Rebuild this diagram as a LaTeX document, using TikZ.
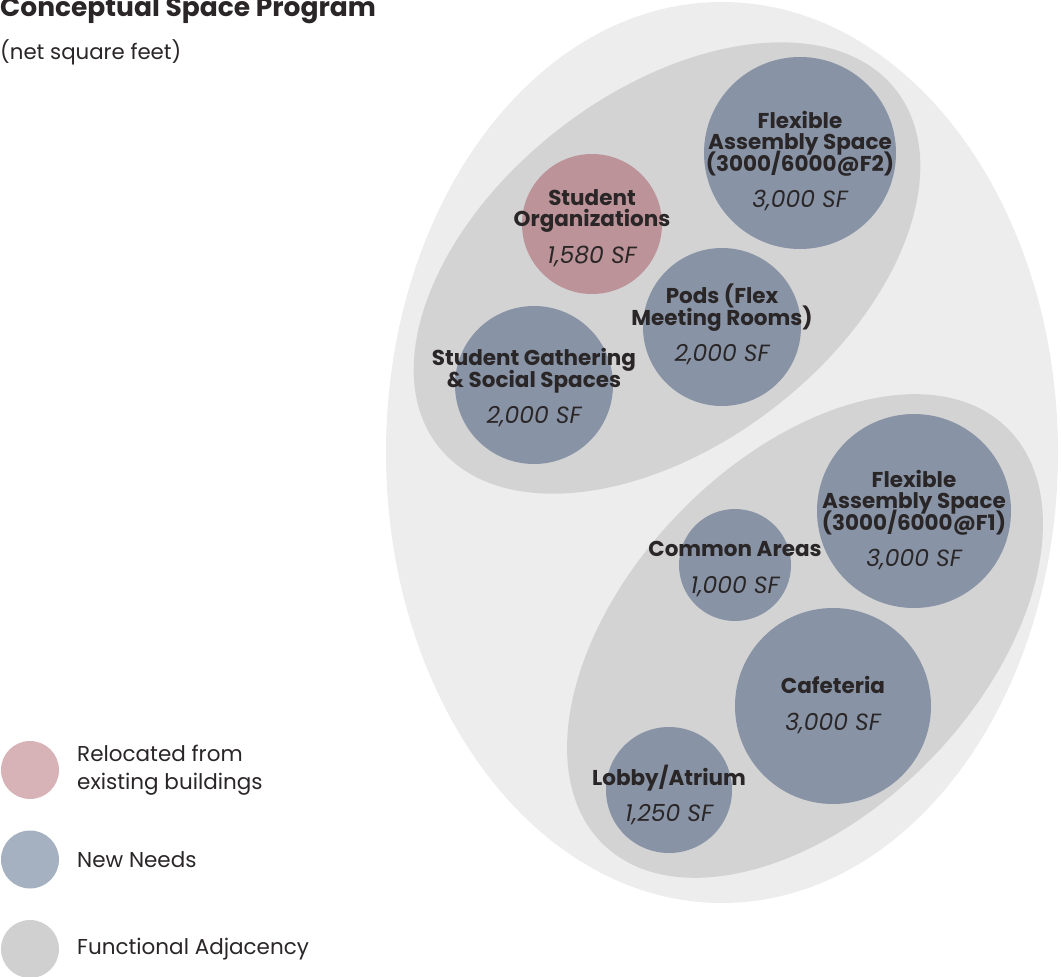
\documentclass[tikz,border=0pt]{standalone}
\usepackage{fontspec}
\setmainfont{Poppins}
\usepackage{xcolor}
\usetikzlibrary{positioning}
\definecolor{programBack}{HTML}{EDEDED}
\definecolor{programGroup}{HTML}{D3D3D3}
\definecolor{programNew}{HTML}{8894A5}
\definecolor{programReloc}{HTML}{BB9398}
\definecolor{programText}{HTML}{2A2627}
\definecolor{keyReloc}{HTML}{D7B3B8}
\definecolor{keyNew}{HTML}{A5B1C1}
\definecolor{keyGroup}{HTML}{D0D0D0}
\newcommand{\roomfont}{\fontsize{21.5}{21.5}\selectfont\bfseries\setlength{\lineskiplimit}{-30pt}}
\newcommand{\areafont}{\fontsize{23.5}{21.5}\selectfont\mdseries\itshape}

\begin{document}
\begin{tikzpicture}[x=1pt,y=-1pt,
    every node/.style={text=programText, inner sep=0pt},
    room/.style={circle, fill=programNew, minimum size=#1},
    oldroom/.style={circle, fill=programReloc, minimum size=#1},
    roomname/.style={align=center, font=\roomfont},
    keydot/.style={circle, minimum size=58},
    keytext/.style={anchor=west, align=left, font=\fontsize{21.5}{28}\selectfont}]
    \useasboundingbox (0,0) rectangle (1061,977);
    \fill[programBack] (722,452.5) ellipse [x radius=336, y radius=450.5];
    \fill[programGroup, rotate around={37.8:(667,268)}] (667,268) ellipse [x radius=290, y radius=176];
    \fill[programGroup, rotate around={46:(805,636)}] (805,636) ellipse [x radius=290, y radius=176];

    \node[anchor=base west, font=\fontsize{26.5}{30}\selectfont\bfseries] (title) at (0,16.5) {Conceptual Space Program};
    \node[anchor=base west, font=\fontsize{21.3}{24}\selectfont] (subtitle) at (0,59) {(net square feet)};

    \node[room=192] (flexTwo) at (800,153) {};
    \node[oldroom=140] (studentOrg) at (592,224) {};
    \node[room=158] (pods) at (722,327) {};
    \node[room=158] (gathering) at (534,385) {};
    \node[room=194] (flexOne) at (914,511) {};
    \node[room=112] (common) at (735,565) {};
    \node[room=196] (cafeteria) at (833,706) {};
    \node[room=126] (lobby) at (669,790) {};

    \node[roomname] (flexTwoT) at (800,161) {Flexible\\Assembly Space\\(3000/6000@F2)\\[15pt]{\areafont 3,000 SF}};
    \node[roomname] (studentOrgT) at (592,228) {Student\\Organizations\\[15pt]{\areafont 1,580 SF}};
    \node[roomname] (podsT) at (722,324.5) {Pods (Flex\\Meeting Rooms)\\[15pt]{\areafont 2,000 SF}};
    \node[roomname] (gatheringT) at (534,388) {Student Gathering\\\& Social Spaces\\[15pt]{\areafont 2,000 SF}};
    \node[roomname] (flexOneT) at (914,520) {Flexible\\Assembly Space\\(3000/6000@F1)\\[15pt]{\areafont 3,000 SF}};
    \node[roomname] (commonT) at (735,569) {Common Areas\\[15pt]{\areafont 1,000 SF}};
    \node[roomname] (cafeteriaT) at (833,705) {Cafeteria\\[15pt]{\areafont 3,000 SF}};
    \node[roomname] (lobbyT) at (669,795) {Lobby/Atrium\\[15pt]{\areafont 1,250 SF}};

    \node[keydot, fill=keyReloc] (keyOne) at (30,770) {};
    \node[keydot, fill=keyNew] (keyTwo) at (30,859.5) {};
    \node[keydot, fill=keyGroup] (keyThree) at (30,949) {};
    \node[keytext] (keyOneT) at (77,770) {Relocated from\\existing buildings};
    \node[keytext] (keyTwoT) at (77,859.5) {New Needs};
    \node[keytext] (keyThreeT) at (77,949) {Functional Adjacency};
\end{tikzpicture}
\end{document}
